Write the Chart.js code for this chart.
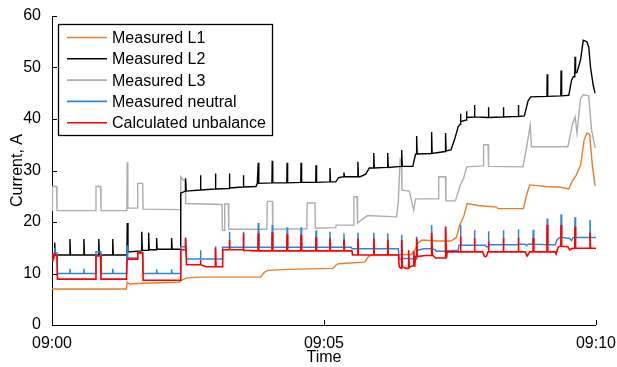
<!DOCTYPE html>
<html><head><meta charset="utf-8">
<script src="https://cdn.jsdelivr.net/npm/chart.js@4.4.1/dist/chart.umd.min.js"></script>
<style>html,body{margin:0;padding:0;background:#fff}#wrap{width:617px;height:367px}</style>
</head><body><div id="wrap"><canvas id="c" width="617" height="367"></canvas></div>
<script>
// [seconds after 09:00, current A]
const xTicks = [0, 300, 600];
const yTicks = [0, 10, 20, 30, 40, 50, 60];
const seriesNames = ["Measured L1", "Measured L2", "Measured L3", "Measured neutral", "Calculated unbalance"];

const L1 = [[0,7.0],[82,7.0],[83,8.3],[86,7.9],[90,8.0],[100,8.1],[140,8.3],[142,8.6],[148,9.1],[160,9.3],[230,9.3],[234,10.2],[238,10.6],[260,10.8],[310,11.0],[313,11.6],[316,11.9],[345,12.2],[349,13.3],[353,13.6],[396,13.7],[400,14.5],[404,16.0],[408,16.5],[425,16.3],[440,16.3],[446,17.0],[450,19.5],[454,21.0],[458,23.6],[470,23.2],[490,22.9],[492,22.6],[520,22.6],[523,25.0],[527,27.2],[545,26.9],[560,26.8],[570,26.4],[574,28.0],[578,29.0],[583,31.0],[587,36.0],[590,37.3],[593,37.0],[596,31.0],[599,27.0]];

const L2 = [[0,13.6],[2.6,13.6],[3,16.0],[3.6,13.6],[19.5,13.6],[19.8,16.7],[20.4,13.6],[34.9,13.6],[35.2,16.7],[35.8,13.6],[51.3,13.6],[51.6,16.7],[52.2,13.6],[66.7,13.6],[67,16.7],[67.6,13.6],[82.6,13.6],[83,19.8],[83.8,14.2],[98.6,14.4],[99,18.1],[99.6,14.5],[106.2,14.5],[106.6,17.9],[107.2,14.6],[115,14.6],[115.4,16.9],[116,14.7],[131.6,14.7],[131.9,16.9],[132.5,14.7],[141.4,14.7],[142,25.6],[147,26.0],[147.3,28.5],[148,26.0],[163.4,26.2],[163.7,29.1],[164.3,26.2],[179.9,26.4],[180.2,29.4],[180.8,26.4],[195.3,26.5],[195.6,29.4],[196.2,26.6],[210.7,26.8],[211,29.1],[211.6,26.8],[225,26.9],[226.4,27.5],[227.2,27.5],[227.5,31.5],[228.1,27.5],[242.6,27.6],[242.9,31.9],[243.5,27.6],[259,27.6],[259.3,31.5],[259.9,27.6],[274.4,27.7],[274.7,31.5],[275.3,27.7],[290.9,27.7],[291.2,31.0],[291.8,27.7],[306.3,27.8],[306.6,30.5],[307.2,27.8],[313,27.8],[316,28.6],[321.7,28.8],[322,29.6],[322.6,28.8],[337.1,28.8],[337.4,31.7],[338,28.8],[340,28.8],[346,29.3],[350,30.5],[354.6,30.5],[354.9,33.4],[355.5,30.5],[370,30.6],[370.3,33.4],[370.9,30.6],[385.4,30.8],[385.7,34.0],[386.3,30.8],[398,30.8],[401,33.2],[401.9,33.2],[402.2,36.7],[402.8,33.2],[418.4,33.3],[418.7,37.5],[419.3,33.3],[430,33.6],[433.8,33.7],[434.1,37.3],[434.7,33.8],[440,34.0],[444,36.0],[448,38.5],[450.2,39.0],[450.5,41.0],[451.1,39.5],[456.8,39.8],[457.1,41.5],[457.7,40.3],[465.6,40.4],[465.9,42.7],[466.5,40.4],[481,40.3],[481.3,42.3],[481.9,40.3],[497.5,40.4],[497.8,42.3],[498.4,40.4],[514,40.5],[514.3,42.7],[514.9,40.5],[521,40.6],[525,43.5],[528,44.3],[545.9,44.4],[546.2,48.7],[546.8,44.4],[561.2,44.5],[561.5,49.4],[562.1,44.5],[570,44.6],[573,47.5],[575,48.2],[576.6,48.2],[576.9,52.1],[577.5,49.0],[579,49.0],[583,51.5],[586,55.3],[590,55.0],[592,54.0],[594,50.0],[597,46.5],[599,45.0]];

const L3 = [[0,22.2],[0.5,26.9],[5,26.9],[5.5,22.2],[48,22.2],[48.5,26.9],[53.5,26.9],[54,22.2],[82.5,22.2],[83,31.6],[83.6,22.7],[94,22.7],[94.5,27.5],[100,27.5],[100.5,22.5],[141.3,22.4],[142,28.8],[145,28.1],[147,28.0],[147.5,23.6],[187.5,23.4],[188,18.4],[190,18.4],[190.5,23.5],[194.5,23.5],[195,18.6],[237,18.6],[237.5,24.0],[243,24.0],[243.5,18.6],[281,18.7],[281.5,23.7],[290,23.7],[290.5,18.8],[313,18.9],[313.5,19.4],[332.5,19.4],[333,24.9],[336.5,24.9],[337,19.8],[342,20.5],[348,21.2],[352,21.2],[380,21.0],[382,24.0],[384,32.2],[385.5,32.0],[386,26.2],[394,26.0],[399,22.3],[401,24.5],[426,24.5],[426.5,28.8],[434,28.8],[434.5,24.1],[445,24.1],[450,27.0],[454,28.5],[457.5,30.7],[475.5,30.9],[476,35.0],[481,35.0],[481.5,30.8],[519.5,30.7],[523,34.0],[527.5,38.8],[528.8,34.6],[569,34.6],[574,39.0],[577,40.4],[579,37.3],[583,44.0],[586,44.7],[592,44.5],[595,38.0],[599,34.4]];

const NEUTRAL = [[0,13.5],[2.5,14.0],[3,15.0],[3.5,14.0],[5.5,14.0],[6,10.0],[19.5,10.0],[19.8,10.9],[20.4,10.0],[34.9,10.0],[35.2,10.9],[35.8,10.0],[48.2,10.0],[48.5,14.2],[53.5,14.2],[54,10.0],[66.7,10.0],[67,10.9],[67.6,10.0],[82.2,10.0],[82.8,15.5],[83.5,13.0],[94,13.0],[94.5,14.0],[100,14.0],[100.5,10.0],[115.1,10.0],[115.4,10.8],[116,10.0],[131.6,10.0],[131.9,10.8],[132.5,10.0],[141.5,10.0],[142,15.2],[147,15.2],[147.3,17.0],[148.4,12.8],[163.4,12.8],[163.7,14.5],[164.3,12.8],[179.9,12.8],[180.2,15.3],[180.8,12.8],[187.6,12.8],[188.2,15.1],[195.3,15.1],[195.6,18.1],[196.2,15.1],[210.7,15.1],[211,18.1],[211.6,15.1],[227.2,15.1],[227.5,19.8],[228.1,15.1],[242.6,15.1],[242.9,19.4],[243.5,15.1],[259,15.1],[259.3,19.0],[259.9,15.1],[274.4,15.1],[274.7,19.0],[275.3,15.1],[290.9,15.1],[291.2,18.4],[291.8,15.1],[306.3,15.1],[306.6,18.1],[307.2,15.1],[321.7,15.1],[322,17.8],[322.6,15.1],[330,15.1],[331,14.8],[337.1,14.8],[337.4,17.9],[338,14.8],[354.6,14.8],[354.9,17.9],[355.5,14.8],[370,14.8],[370.3,17.8],[370.9,14.8],[382,14.8],[383,12.8],[385.4,12.8],[385.7,17.5],[386.3,12.9],[393,12.9],[401,12.8],[401.9,12.8],[402.2,17.2],[403,14.5],[410,14.8],[418.4,14.8],[418.7,19.4],[419.3,14.8],[423,14.6],[424,14.3],[433.8,14.3],[434.1,19.1],[434.7,14.4],[436,14.4],[448,14.5],[449,15.5],[450.2,15.5],[450.5,19.4],[451.1,15.5],[465.6,15.5],[465.9,18.4],[466.5,15.5],[478,15.5],[479,15.2],[481,15.2],[481.3,18.2],[482,15.6],[497.5,15.6],[497.8,18.4],[498.4,15.6],[514,15.6],[514.3,18.6],[514.9,15.7],[522,15.7],[523.5,15.4],[525,15.7],[530.5,15.7],[530.8,18.5],[531.4,15.7],[545.9,15.6],[546.2,20.7],[546.8,15.6],[555,15.6],[557,16.5],[560,17.0],[561.2,17.0],[561.5,21.5],[562.1,17.0],[571,16.8],[573,16.4],[575,17.0],[576.6,17.0],[576.9,20.9],[577.5,17.0],[593.1,17.0],[593.4,20.4],[594,17.0],[600,17.0]];

const UNBALANCE = [[0,12.5],[1,13.4],[2,13.0],[3,13.8],[5.5,13.4],[6,8.9],[48.2,8.9],[48.5,13.4],[53.5,13.4],[54,8.9],[82.2,8.9],[82.8,12.8],[94,12.8],[94.5,14.0],[100,14.0],[100.5,8.7],[141.5,8.7],[142,14.6],[147,14.6],[147.3,16.9],[148.4,11.7],[163.4,11.7],[163.7,12.6],[164.3,11.7],[170,11.3],[179.9,11.3],[180.2,15.0],[181,11.3],[187.6,11.3],[188.2,14.6],[195.3,14.6],[195.6,16.5],[196.2,14.6],[210.7,14.6],[211,17.8],[211.6,14.5],[226,14.4],[227.2,14.4],[227.5,17.8],[228.1,14.4],[242.6,14.4],[242.9,18.0],[243.5,14.4],[259,14.4],[259.3,17.6],[259.9,14.4],[274.4,14.4],[274.7,17.5],[275.3,14.4],[290.9,14.4],[291.2,17.0],[291.8,14.4],[306.3,14.4],[306.6,16.8],[307.2,14.4],[321.7,14.4],[322,16.6],[322.6,14.4],[330.8,14.4],[331.5,13.6],[337.1,13.6],[337.4,16.8],[338,13.6],[354.6,13.6],[354.9,16.8],[355.5,13.6],[370,13.6],[370.3,16.5],[370.9,13.6],[382,13.6],[383,11.3],[385.4,11.0],[385.7,16.5],[386.5,11.3],[390,11.0],[393.1,11.0],[393.4,14.5],[394,11.2],[398,11.5],[398.7,11.5],[399,14.3],[400,11.3],[401,13.3],[401.9,13.3],[402.2,16.8],[403,13.3],[412,13.5],[418.4,13.5],[418.7,17.9],[419.5,13.6],[423,13.0],[433.8,13.0],[434.1,19.1],[435,13.0],[436,14.2],[450.2,14.2],[450.5,17.2],[451.1,14.2],[465.6,14.2],[465.9,16.9],[466.5,14.2],[475,14.2],[477,13.3],[479,13.3],[481,14.2],[481.3,16.2],[482,14.2],[497.5,14.2],[497.8,16.9],[498.4,14.2],[514,14.2],[514.3,16.9],[514.9,14.2],[522,14.2],[524,13.4],[527,14.2],[530.5,14.2],[530.8,16.9],[531.4,14.2],[545.9,14.2],[546.2,19.4],[546.8,14.2],[555,14.2],[556,13.8],[558,15.0],[560,15.3],[561.2,15.3],[561.5,19.4],[562.1,15.3],[569,15.2],[571,14.6],[574,14.9],[576.6,14.9],[576.9,19.1],[577.5,14.9],[593.1,14.9],[593.4,17.9],[594,14.9],[600,14.9]];

const colors = ["#ED7D24", "#000000", "#ADADAD", "#2F86D6", "#FF0000"];
const widths = [1.4, 1.4, 1.4, 1.5, 1.6];
const orders = [3, 2, 4, 1, 0];
const series = [L1, L2, L3, NEUTRAL, UNBALANCE];

const FONT = "'Liberation Sans', Arial, sans-serif";

const datasets = seriesNames.map((name, k) => ({
  label: name,
  data: series[k].map(p => ({x: p[0], y: p[1]})),
  borderColor: colors[k],
  backgroundColor: colors[k],
  borderWidth: widths[k],
  pointRadius: 0,
  tension: 0,
  fill: false,
  order: orders[k]
}));

const extras = {
  id: 'extras',
  afterDatasetsDraw(chart) {
    const ctx = chart.ctx, xS = chart.scales.x, yS = chart.scales.y;
    ctx.save();
    ctx.strokeStyle = '#000'; ctx.lineWidth = 1;
    yTicks.forEach(v => {
      const py = Math.round(yS.getPixelForValue(v)) + 0.5;
      ctx.beginPath(); ctx.moveTo(xS.left, py); ctx.lineTo(xS.left + 5, py); ctx.stroke();
    });
    xTicks.forEach(v => {
      const px = Math.round(xS.getPixelForValue(v)) + 0.5;
      ctx.beginPath(); ctx.moveTo(px, yS.bottom); ctx.lineTo(px, yS.bottom - 5); ctx.stroke();
    });
    const bx = 58.5, by = 24.5, bw = 214, bh = 111;
    ctx.fillStyle = '#fff';
    ctx.fillRect(bx, by, bw, bh);
    ctx.strokeStyle = '#000';
    ctx.lineWidth = 1.3;
    ctx.strokeRect(bx, by, bw, bh);
    ctx.font = '16px ' + FONT;
    ctx.textBaseline = 'middle';
    ctx.textAlign = 'left';
    chart.data.datasets.forEach((ds, i) => {
      const ry = 37.5 + i * 21.3;
      ctx.strokeStyle = colors[i]; ctx.lineWidth = 1.6;
      ctx.beginPath(); ctx.moveTo(67, ry); ctx.lineTo(107, ry); ctx.stroke();
      ctx.fillStyle = '#000';
      ctx.fillText(ds.label, 112, ry + 1);
    });
    ctx.restore();
  }
};

new Chart(document.getElementById('c'), {
  type: 'line',
  data: {datasets},
  options: {
    responsive: false,
    animation: false,
    layout: {padding: {left: 0, right: 19, top: 16, bottom: 0}},
    plugins: {legend: {display: false}, tooltip: {enabled: false}},
    scales: {
      x: {
        type: 'linear', min: 0, max: 600,
        grid: {display: false},
        border: {display: true, color: '#000', width: 1},
        ticks: {
          maxRotation: 0, padding: 1, color: '#000',
          font: {family: FONT, size: 16},
          callback: v => { const m = Math.round(v / 60); return '09:' + String(m).padStart(2, '0'); }
        },
        afterBuildTicks: s => { s.ticks = xTicks.map(v => ({value: v})); },
        title: {display: true, text: 'Time', color: '#000', font: {family: FONT, size: 16}, padding: {top: 0, bottom: 0}},
        afterFit: s => { s.height = 42; }
      },
      y: {
        min: 0, max: 60,
        grid: {display: false},
        border: {display: true, color: '#000', width: 1},
        ticks: {padding: 3, color: '#000', font: {family: FONT, size: 16}},
        afterBuildTicks: s => { s.ticks = yTicks.map(v => ({value: v})); },
        title: {display: true, text: 'Current, A', color: '#000', font: {family: FONT, size: 16}, padding: {top: 8, bottom: 0}},
        afterFit: s => { s.width = 52; }
      }
    }
  },
  plugins: [extras]
});
</script></body></html>
